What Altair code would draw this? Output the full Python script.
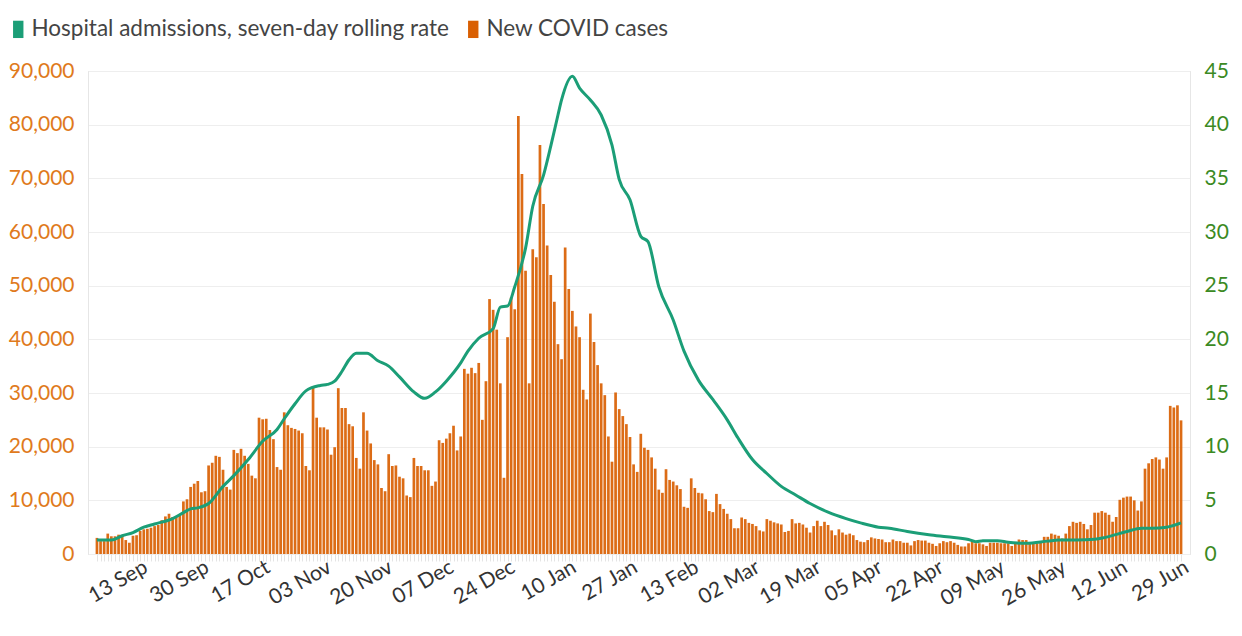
import altair as alt
import pandas as pd

# Daily new COVID cases (thousands), 1 Sep 2021 -> 29 Jun 2022
cases_thousands = [
    3.0, 2.4, 2.4, 3.8, 3.3, 3.3, 3.6, 3.4, 2.6, 2.1, 3.4, 3.5, 4.3, 4.6, 4.7, 4.9, 5.2, 5.4, 6.3, 7.0,
    7.5, 6.9, 6.9, 7.2, 9.8, 10.2, 12.5, 13.1, 13.6,
    11.5, 11.7, 16.5, 17.0, 18.3, 18.1, 15.7, 12.5, 12.0, 19.4, 18.8, 19.6, 18.3, 16.8, 14.6, 14.1, 25.4,
    25.1, 25.2, 23.1, 21.4, 16.2, 15.7, 26.4, 24.0, 23.5, 23.3, 23.0,
    22.5, 16.4, 15.6, 31.3, 25.4, 23.6, 23.6, 23.2, 18.5, 19.9, 30.9, 27.2, 27.2, 24.2, 23.8, 17.9, 15.9,
    26.4, 23.0, 20.6, 17.5, 16.7, 12.3, 11.7, 18.6, 16.4, 16.5, 14.4,
    14.1, 10.9, 10.6, 17.9, 16.4, 16.4, 15.6, 15.6, 12.7, 13.5, 21.2, 20.7, 21.5, 22.5, 23.9, 19.3, 21.9,
    34.5, 33.6, 34.7, 33.7, 35.6, 25.0, 32.2, 47.5, 45.5, 41.8,
    31.8, 14.2, 40.4, 47.8, 45.6, 81.6, 70.8, 52.8, 31.8, 56.8, 55.3, 76.2, 65.2, 57.5, 52.0, 47.0, 39.1,
    36.3, 57.1, 49.4, 45.3, 42.4, 40.4, 30.6, 28.8, 44.8,
    39.5, 35.2, 31.8, 29.6, 21.9, 17.2, 30.1, 27.0, 25.7, 24.2, 21.8, 16.7, 15.3, 22.4, 19.8, 19.4, 18.0,
    15.9, 12.0, 11.4, 15.8, 13.8, 13.5, 12.8, 12.1, 8.8,
    8.6, 14.1, 12.3, 11.4, 11.3, 10.2, 8.0, 7.8, 11.2, 9.3, 8.4, 7.5, 6.5, 4.8, 4.8, 6.8, 6.5, 5.8, 5.6,
    5.2, 4.4, 4.2, 6.5, 6.2, 5.9, 5.7,
    5.5, 4.1, 4.3, 6.5, 5.7, 5.8, 5.5, 4.9, 4.0, 5.2, 6.2, 5.2, 6.0, 5.4, 4.4, 3.5, 4.6, 4.0, 3.6, 3.8,
    3.5, 2.6, 2.3, 2.2, 2.6, 3.1, 2.9, 2.8,
    2.7, 2.2, 2.2, 2.7, 2.4, 2.4, 2.1, 2.1, 1.6, 2.4, 2.6, 2.5, 2.5, 2.1, 1.9, 1.5, 2.0, 2.4, 2.2, 2.4,
    2.1, 1.7, 1.4, 1.4, 2.0, 2.3, 2.0,
    2.0, 1.8, 1.5, 2.1, 2.1, 2.1, 2.0, 2.0, 2.0, 1.5, 2.0, 2.7, 2.6, 2.6, 2.0, 2.0, 2.0, 2.1, 3.2, 3.2,
    3.8, 3.6, 3.4, 2.9, 3.8, 5.2, 6.0, 5.8,
    6.0, 5.6, 4.6, 5.4, 7.7, 7.7, 8.0, 7.7, 7.3, 6.0, 6.9, 10.1, 10.5, 10.7, 10.7, 10.0, 8.1, 9.8, 15.9,
    16.9, 17.7, 18.0, 17.6, 15.9, 18.0, 27.6, 27.3, 27.7, 24.9,
]

# Hospital admissions, seven-day rolling rate (read at day offsets from 1 Sep 2021)
line_day = [0, 4, 7, 10, 13, 16, 21, 24, 26, 28, 31, 35, 38, 42, 46, 50, 52, 55, 58, 62, 64, 66, 68,
            70, 72, 75, 78, 81, 84, 88, 91, 94, 97, 101, 103, 106, 110, 112, 114, 116, 119, 121, 124,
            126, 128, 129, 132, 134, 137, 140, 143, 145, 148, 151, 153, 156, 160, 163, 167, 171, 175,
            178, 182, 186, 190, 194, 198, 203, 208, 212, 217, 220, 225, 231, 236, 242, 244, 246, 250,
            253, 258, 264, 267, 272, 277, 280, 286, 290, 293, 297, 301]
line_rate = [1.3, 1.3, 1.7, 2.0, 2.5, 2.8, 3.3, 3.85, 4.2, 4.3, 4.7, 6.3, 7.3, 8.8, 10.5, 11.6, 12.6,
             14.0, 15.2, 15.7, 15.8, 16.1, 17.0, 18.1, 18.7, 18.7, 18.0, 17.5, 16.5, 15.1, 14.5, 15.1,
             16.1, 17.8, 18.9, 20.1, 21.0, 23.0, 23.1, 24.9, 28.5, 32.4, 35.3, 38.0, 40.9, 42.3, 44.5,
             43.4, 42.3, 40.9, 38.1, 34.9, 33.0, 29.6, 29.1, 24.9, 21.8, 18.9, 16.2, 14.4, 12.5, 10.8,
             8.8, 7.5, 6.3, 5.5, 4.7, 3.9, 3.3, 2.9, 2.5, 2.4, 2.1, 1.8, 1.6, 1.35, 1.15, 1.24, 1.24,
             1.1, 1.0, 1.2, 1.3, 1.3, 1.37, 1.55, 2.1, 2.4, 2.4, 2.5, 2.9]

series_names = ["Hospital admissions, seven-day rolling rate", "New COVID cases"]
series_colors = ["#1b9e77", "#d95f02"]
case_ticks = list(range(0, 90001, 10000))
rate_ticks = list(range(0, 46, 5))
label_days = list(range(12, 302, 17))   # 13 Sep, 30 Sep, ... 29 Jun

bars_df = pd.DataFrame({
    "day": list(range(len(cases_thousands))),
    "cases": [v * 1000 for v in cases_thousands],
    "series": series_names[1],
})
line_df = pd.DataFrame({"day": line_day, "rate": line_rate})

FONT = "Lato"
AXIS_FS = 21
LEGEND_FS = 22.5

x_scale = alt.Scale(domain=[-1.1, 302.1], nice=False, zero=False)

# bar layer: one light tick per day, no labels
x_bars = alt.X(
    "day:Q", scale=x_scale,
    axis=alt.Axis(
        orient="bottom",
        values=list(range(len(cases_thousands))), tickCount=1000,
        labels=False, grid=False, domain=False, ticks=True,
        tickColor="#e4e4e4", tickSize=7, title=None,
    ),
)
# line layer: the date labels
x_line = alt.X(
    "day:Q", scale=x_scale,
    axis=alt.Axis(
        orient="bottom",
        values=label_days, tickCount=1000,
        labelExpr="timeFormat(datetime(2021, 8, 1 + datum.value), '%d %b')",
        labelAngle=-30, labelAlign="right", labelBaseline="top",
        labelOverlap=False, labelFlush=False, labelBound=False,
        labelFontSize=AXIS_FS, labelColor="#333333", labelFont=FONT, labelPadding=2,
        grid=False, domain=False, ticks=False, title=None,
    ),
)

bars = alt.Chart(bars_df).mark_bar(size=2.7, opacity=0.92).encode(
    x=x_bars,
    y=alt.Y(
        "cases:Q",
        scale=alt.Scale(domain=[0, 90000], nice=False),
        axis=alt.Axis(values=case_ticks, format=",.0f", labelColor="#e07a1c", labelFontSize=AXIS_FS,
                      labelFont=FONT, title=None, ticks=False, domainColor="#e6e6e6",
                      gridColor="#eeeeee", labelPadding=14),
    ),
    color=alt.Color(
        "series:N",
        scale=alt.Scale(domain=series_names, range=series_colors),
        legend=alt.Legend(
            title=None, orient="none", legendX=-81, legendY=-53, direction="horizontal",
            symbolType="M -0.6 -1 L 0.6 -1 L 0.6 1 L -0.6 1 Z", symbolSize=300,
            symbolOpacity=1, symbolStrokeWidth=0, labelLimit=800,
            labelFontSize=LEGEND_FS, labelColor="#444444", labelFont=FONT, columnPadding=12,
            labelOffset=2,
        ),
    ),
)

line = alt.Chart(line_df).mark_line(strokeWidth=3, interpolate="monotone", color=series_colors[0]).encode(
    x=x_line,
    y=alt.Y(
        "rate:Q",
        scale=alt.Scale(domain=[0, 45], nice=False),
        axis=alt.Axis(values=rate_ticks, orient="right", labelColor="#3b8a23", labelFontSize=AXIS_FS,
                      labelFont=FONT, title=None, ticks=False, grid=False, domainColor="#e6e6e6",
                      labelPadding=14),
    ),
)

chart = alt.layer(bars, line).resolve_scale(y="independent").resolve_axis(x="independent").properties(
    width=1102, height=483,
    autosize=alt.AutoSizeParams(type="none"),
    padding={"left": 88, "top": 71, "right": 52, "bottom": 82},
).configure_view(stroke=None).configure(font=FONT)

chart.save("out.html", embed_options={"renderer": "svg", "actions": False})
